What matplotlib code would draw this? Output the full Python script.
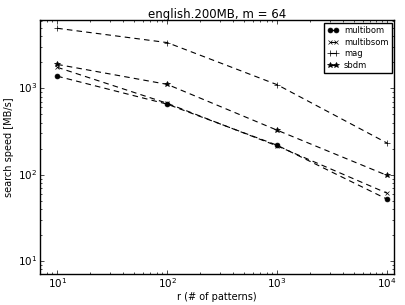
import matplotlib
matplotlib.use("Agg")
import matplotlib.pyplot as plt

plt.style.use("classic")

# nombre de motifs
r = [10, 100, 1000, 10000]

# vitesses de recherche [MB/s]
multibom = [1380, 655, 219, 52]
multibsom = [1750, 670, 215, 61]
mag = [4950, 3380, 1100, 232]
sbdm = [1890, 1110, 327, 98]

fig = plt.figure(figsize=(4.06, 3.05), dpi=100)
ax = fig.add_axes([0.099, 0.102, 0.872, 0.831])

style = dict(color="k", linestyle="--", linewidth=0.8, dashes=(4, 3))
ax.plot(r, multibom, marker="o", markersize=3.5, label="multibom", **style)
ax.plot(r, multibsom, marker="x", markersize=3.5, label="multibsom", **style)
ax.plot(r, mag, marker="+", markersize=4.5, label="mag", **style)
ax.plot(r, sbdm, marker="*", markersize=4, label="sbdm", **style)

ax.set_xscale("log")
ax.set_yscale("log")
ax.set_xlim(7.0, 11600)
ax.set_ylim(7.1, 6100)

ax.set_title("english.200MB, m = 64", fontsize=8.5, pad=2)
ax.set_xlabel("r (# of patterns)", fontsize=7, labelpad=1)
ax.set_ylabel("search speed [MB/s]", fontsize=7, labelpad=3)
ax.tick_params(labelsize=7.5, length=3, pad=2)
ax.tick_params(which="minor", length=1.5)

ax.legend(loc="upper right", fontsize=6, numpoints=2, handlelength=1.3,
          borderaxespad=0.3, labelspacing=0.3, handletextpad=0.7)

fig.savefig("out.png", dpi=100)
